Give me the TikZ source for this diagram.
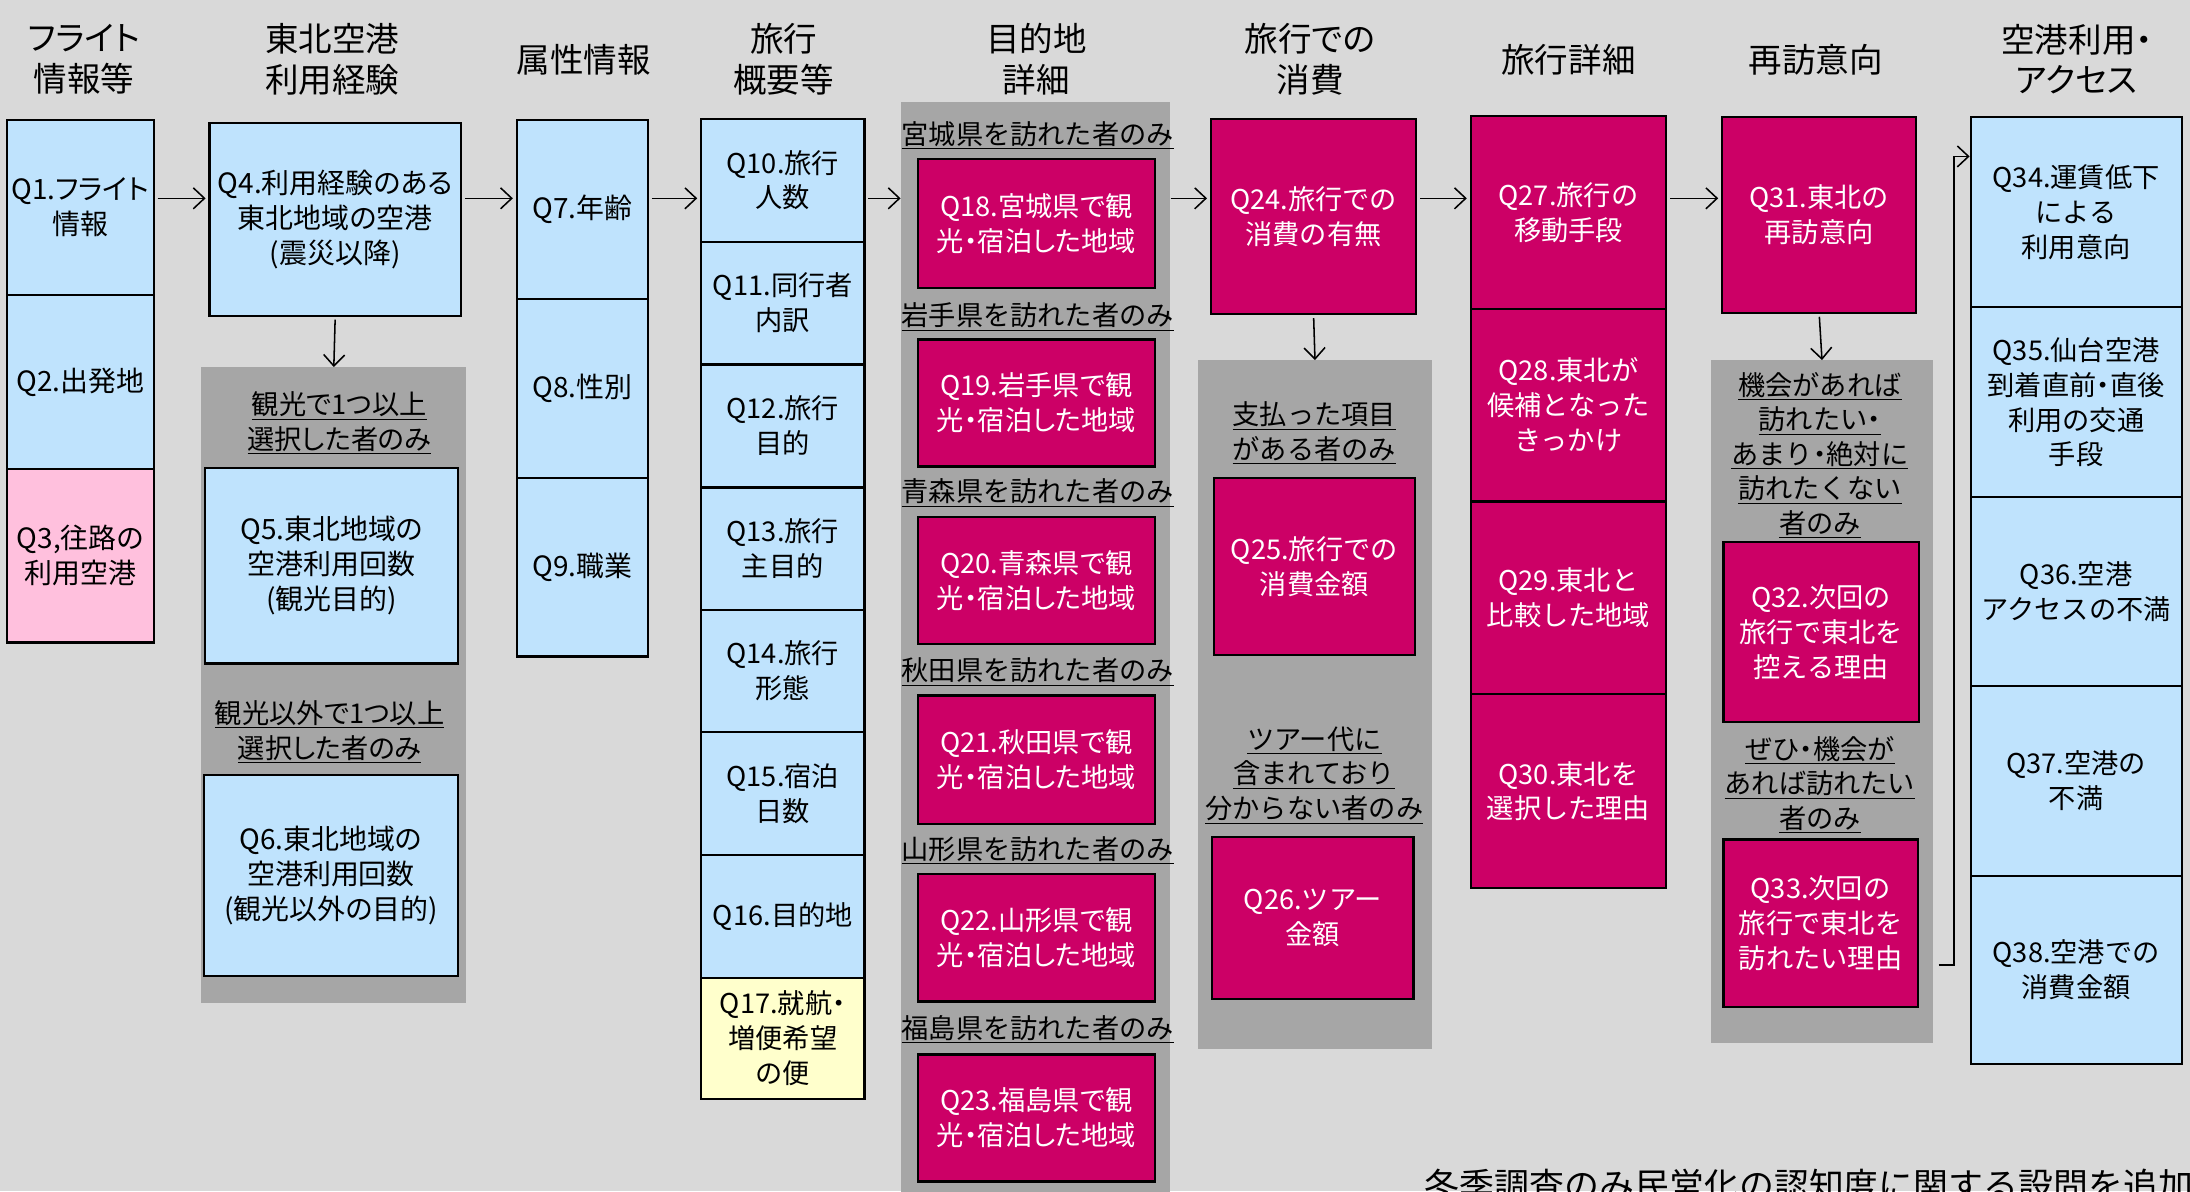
\documentclass[tikz,border=0pt]{standalone}
\usepackage{fontspec}
\setmainfont{Noto Sans CJK JP}
\newfontfamily\pfont[RawFeature=+palt]{Noto Sans CJK JP}
\usetikzlibrary{arrows.meta}
\definecolor{bgc}{HTML}{D9D9D9}
\definecolor{panelc}{HTML}{A6A6A6}
\definecolor{qblue}{HTML}{BFE3FD}
\definecolor{qpink}{HTML}{FFC0DD}
\definecolor{qmag}{HTML}{CC0066}
\definecolor{qyel}{HTML}{FFFFCC}
\newcommand\ulx[1]{\underline{#1}}
\newcommand\qbox[7]{\node[#6, minimum width={(#4-#2)*1pt}, minimum height={(#5-#3)*1pt}] (#1) at ({(#2+#4)/2},{(#3+#5)/2}) {#7};}
\tikzset{
 qb/.style={draw=black, line width=1.6pt, align=center, inner sep=1pt, font=\fontsize{19.5}{25}\selectfont},
 blu/.style={qb, fill=qblue},
 bluk/.style={qb, fill=qblue, font=\pfont\fontsize{19.5}{25}\selectfont},
 blp/.style={qb, fill=qblue, font=\pfont\fontsize{20}{25}\selectfont},
 pnk/.style={qb, fill=qpink, font=\pfont\fontsize{20}{25}\selectfont},
 yel/.style={qb, fill=qyel, font=\pfont\fontsize{19.5}{25}\selectfont},
 mag/.style={qb, fill=qmag, text=white},
 magk/.style={qb, fill=qmag, text=white, font=\pfont\fontsize{19.5}{25}\selectfont},
 hdr/.style={align=center, inner sep=0pt, font=\pfont\fontsize{24}{29}\selectfont},
 lbl/.style={align=center, inner sep=0pt, font=\fontsize{19.5}{24.8}\selectfont},
 lblp/.style={lbl, font=\pfont\fontsize{19.5}{24.8}\selectfont},
 pnl/.style={fill=panelc, draw=none, inner sep=0pt},
 arr/.style={-{Straight Barb[length=8pt,width=15pt]}, line width=1.1pt, shorten <=2pt, shorten >=2pt},
}
\begin{document}
\begin{tikzpicture}[x=1pt,y=-1pt]
\useasboundingbox (0,0) rectangle (1568,853);
\clip (0,0) rectangle (1568,853);
\fill[bgc] (0,0) rectangle (1568,853);

% headers
\node[hdr] (h1) at (60,42.5) {フライト\\情報等};
\node[hdr] (h2) at (238,42.5) {東北空港\\利用経験};
\node[hdr] (h3) at (418,43) {属性情報};
\node[hdr] (h4) at (561,42.5) {旅行\\概要等};
\node[hdr] (h5) at (742,42.5) {目的地\\詳細};
\node[hdr] (h6) at (938,42.5) {旅行での\\消費};
\node[hdr] (h7) at (1123,43) {旅行詳細};
\node[hdr] (h8) at (1300,43) {再訪意向};
\node[hdr] (h9) at (1487,42.5) {空港利用・\\アクセス};

% panels
\qbox{p2}{144}{263}{334}{718}{pnl}{}
\qbox{p5}{645}{73}{838}{870}{pnl}{}
\qbox{p6}{858}{258}{1025}{751}{pnl}{}
\qbox{p8}{1225}{258}{1384}{747}{pnl}{}

% column 1
\qbox{q1}{5}{86}{110}{211}{blp}{Q1.フライト\\情報}
\qbox{q2}{5}{211}{110}{336}{blp}{Q2.出発地}
\qbox{q3}{5}{336}{110}{460}{pnk}{Q3,往路の\\利用空港}

% column 2
\qbox{q4}{150}{88}{330}{226}{blp}{Q4.利用経験のある\\東北地域の空港\\(震災以降)}
\node[lblp] (l5) at (243,303) {\ulx{観光で1つ以上}\\\ulx{選択した者のみ}};
\qbox{q5}{147}{335}{328}{475}{blp}{Q5.東北地域の\\空港利用回数\\(観光目的)}
\node[lblp] (l6) at (236,524) {\ulx{観光以外で1つ以上}\\\ulx{選択した者のみ}};
\qbox{q6}{146}{555}{328}{699}{blp}{Q6.東北地域の\\空港利用回数\\(観光以外の目的)}

% column 3
\qbox{q7}{370}{86}{464}{214}{blp}{Q7.年齢}
\qbox{q8}{370}{214}{464}{342}{blp}{Q8.性別}
\qbox{q9}{370}{342}{464}{470}{blp}{Q9.職業}

% column 4
\qbox{q10}{502}{85}{619}{173}{blu}{Q10.旅行\\人数}
\qbox{q11}{502}{173}{619}{261}{blu}{Q11.同行者\\内訳}
\qbox{q12}{502}{261}{619}{349}{blu}{Q12.旅行\\目的}
\qbox{q13}{502}{349}{619}{437}{blu}{Q13.旅行\\主目的}
\qbox{q14}{502}{437}{619}{524}{blu}{Q14.旅行\\形態}
\qbox{q15}{502}{524}{619}{612}{blu}{Q15.宿泊\\日数}
\qbox{q16}{502}{612}{619}{700}{blu}{Q16.目的地}
\qbox{q17}{502}{700}{619}{787}{yel}{Q17.就航・\\増便希望\\の便}

% column 5
\node[lbl] (l18) at (743,97) {\ulx{宮城県を訪れた者のみ}};
\qbox{q18}{657}{114}{827}{206}{magk}{Q18.宮城県で観\\光・宿泊した地域}
\node[lbl] (l19) at (743,227) {\ulx{岩手県を訪れた者のみ}};
\qbox{q19}{657}{243}{827}{334}{magk}{Q19.岩手県で観\\光・宿泊した地域}
\node[lbl] (l20) at (743,353) {\ulx{青森県を訪れた者のみ}};
\qbox{q20}{657}{370}{827}{461}{magk}{Q20.青森県で観\\光・宿泊した地域}
\node[lbl] (l21) at (743,481) {\ulx{秋田県を訪れた者のみ}};
\qbox{q21}{657}{498}{827}{590}{magk}{Q21.秋田県で観\\光・宿泊した地域}
\node[lbl] (l22) at (743,609) {\ulx{山形県を訪れた者のみ}};
\qbox{q22}{657}{626}{827}{717}{magk}{Q22.山形県で観\\光・宿泊した地域}
\node[lbl] (l23) at (743,737) {\ulx{福島県を訪れた者のみ}};
\qbox{q23}{657}{755}{827}{846}{magk}{Q23.福島県で観\\光・宿泊した地域}

% column 6
\qbox{q24}{867}{85}{1014}{225}{mag}{Q24.旅行での\\消費の有無}
\node[lbl] (l25) at (941,310) {\ulx{支払った項目}\\\ulx{がある者のみ}};
\qbox{q25}{869}{342}{1013}{469}{mag}{Q25.旅行での\\消費金額}
\node[lbl] (l26) at (941,555) {\ulx{ツアー代に}\\\ulx{含まれており}\\\ulx{分からない者のみ}};
\qbox{q26}{868}{599}{1012}{715}{mag}{Q26.ツアー\\金額}

% column 7
\qbox{q27}{1053}{83}{1193}{221}{mag}{Q27.旅行の\\移動手段}
\qbox{q28}{1053}{221}{1193}{359}{mag}{Q28.東北が\\候補となった\\きっかけ}
\qbox{q29}{1053}{359}{1193}{497}{mag}{Q29.東北と\\比較した地域}
\qbox{q30}{1053}{497}{1193}{636}{mag}{Q30.東北を\\選択した理由}

% column 8
\qbox{q31}{1233}{84}{1372}{224}{mag}{Q31.東北の\\再訪意向}
\node[lbl] (l32) at (1303,326) {\ulx{機会があれば}\\\ulx{訪れたい{\pfont ・}}\\\ulx{あまり{\pfont ・}絶対に}\\\ulx{訪れたくない}\\\ulx{者のみ}};
\qbox{q32}{1234}{388}{1374}{517}{mag}{Q32.次回の\\旅行で東北を\\控える理由}
\node[lbl] (l33) at (1303,562) {\ulx{ぜひ{\pfont ・}機会が}\\\ulx{あれば訪れたい}\\\ulx{者のみ}};
\qbox{q33}{1234}{601}{1373}{721}{mag}{Q33.次回の\\旅行で東北を\\訪れたい理由}

% column 9
\qbox{q34}{1411}{84}{1562}{220}{blu}{Q34.運賃低下\\による\\利用意向}
\qbox{q35}{1411}{220}{1562}{356}{blu}{Q35.仙台空港\\到着直前{\pfont ・}直後\\利用の交通\\手段}
\qbox{q36}{1411}{356}{1562}{491}{blu}{Q36.空港\\アクセスの不満}
\qbox{q37}{1411}{491}{1562}{627}{blu}{Q37.空港の\\不満}
\qbox{q38}{1411}{627}{1562}{762}{blu}{Q38.空港での\\消費金額}

% connectors
\coordinate (ay) at (0,142);
\draw[arr] (q1.east |- ay) -- (q4.west |- ay);
\draw[arr] (q4.east |- ay) -- (q7.west |- ay);
\draw[arr] (q7.east |- ay) -- (q10.west |- ay);
\draw[arr, shorten >=0pt] (q10.east |- ay) -- (p5.west |- ay);
\draw[arr, shorten <=0pt] (p5.east |- ay) -- (q24.west |- ay);
\draw[arr] (q24.east |- ay) -- (q27.west |- ay);
\draw[arr] (q27.east |- ay) -- (q31.west |- ay);
\draw[arr, shorten >=0pt] (q4.south) -- (p2.north);
\draw[arr, shorten >=0pt] (q24.south) -- (p6.north);
\draw[arr, shorten >=0pt] (q31.south) -- (p8.north);
\coordinate (b1) at (1388,691);
\coordinate (b2) at (1399,691);
\coordinate (bt) at (0,112);
\draw[arr, shorten <=0pt, shorten >=0pt] (b1) -- (b2) |- (q34.west |- bt);

% note
\node[anchor=base west, inner sep=0pt, font=\fontsize{25}{30}\selectfont] (note) at (1020,858) {冬季調査のみ民営化の認知度に関する設問を追加};
\end{tikzpicture}
\end{document}
